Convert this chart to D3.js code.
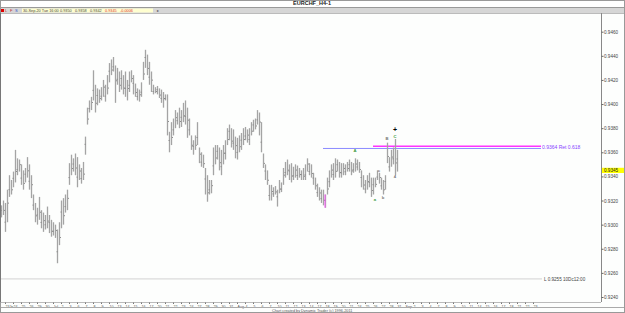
<!DOCTYPE html>
<html>
<head>
<meta charset="utf-8">
<script src="https://cdn.jsdelivr.net/npm/d3@7"></script>
<style>
  body { margin: 0; background: #fff; }
  svg { display: block; font-family: "Liberation Sans", Arial, sans-serif; }
</style>
</head>
<body>
<svg id="chart" width="625" height="313"></svg>
<script>
// EURCHF H4 bars (2 px per bar)
var highs = [
  0.9316,0.9320,0.9318,0.9329,0.9341,0.9337,0.9344,0.9362,0.9355,0.9354,
  0.9350,0.9345,0.9347,0.9356,0.9350,0.9341,0.9325,0.9318,0.9314,0.9323,
  0.9312,0.9310,0.9308,0.9315,0.9308,0.9304,0.9302,0.9300,0.9296,0.9302,
  0.9320,0.9322,0.9325,0.9329,0.9351,0.9358,0.9355,0.9359,0.9356,0.9350,
  0.9347,0.9352,0.9373,0.9397,0.9403,0.9406,0.9428,0.9416,0.9413,0.9412,
  0.9414,0.9420,0.9416,0.9424,0.9434,0.9437,0.9439,0.9432,0.9430,0.9427,
  0.9428,0.9424,0.9427,0.9420,0.9427,0.9428,0.9424,0.9417,0.9413,0.9412,
  0.9418,0.9435,0.9445,0.9441,0.9435,0.9427,0.9416,0.9414,0.9415,0.9413,
  0.9412,0.9410,0.9408,0.9408,0.9377,0.9385,0.9388,0.9395,0.9393,0.9397,
  0.9395,0.9401,0.9403,0.9397,0.9388,0.9374,0.9370,0.9374,0.9385,0.9364,
  0.9360,0.9358,0.9347,0.9341,0.9337,0.9337,0.9364,0.9366,0.9366,0.9364,
  0.9362,0.9366,0.9370,0.9380,0.9383,0.9380,0.9379,0.9373,0.9372,0.9374,
  0.9376,0.9380,0.9381,0.9379,0.9380,0.9385,0.9387,0.9388,0.9395,0.9393,
  0.9385,0.9359,0.9350,0.9345,0.9333,0.9333,0.9331,0.9332,0.9329,0.9337,
  0.9335,0.9347,0.9352,0.9354,0.9350,0.9351,0.9348,0.9350,0.9349,0.9347,
  0.9345,0.9347,0.9350,0.9355,0.9351,0.9350,0.9343,0.9339,0.9334,0.9331,
  0.9329,0.9329,0.9325,0.9339,0.9345,0.9350,0.9351,0.9355,0.9354,0.9352,
  0.9351,0.9351,0.9350,0.9352,0.9354,0.9352,0.9351,0.9355,0.9354,0.9352,
  0.9345,0.9341,0.9337,0.9341,0.9343,0.9339,0.9339,0.9339,0.9345,0.9343,
  0.9339,0.9337,0.9341,0.9368,0.9356,0.9362,0.9364,0.9371,0.9362
];
var lows = [
  0.9306,0.9308,0.9294,0.9302,0.9323,0.9325,0.9331,0.9335,0.9341,0.9344,
  0.9333,0.9329,0.9335,0.9339,0.9329,0.9322,0.9312,0.9302,0.9300,0.9304,
  0.9297,0.9294,0.9296,0.9297,0.9293,0.9290,0.9291,0.9289,0.9268,0.9283,
  0.9297,0.9300,0.9310,0.9312,0.9333,0.9341,0.9344,0.9341,0.9331,0.9337,
  0.9334,0.9337,0.9358,0.9383,0.9393,0.9395,0.9403,0.9393,0.9399,0.9401,
  0.9403,0.9406,0.9402,0.9408,0.9418,0.9424,0.9427,0.9401,0.9416,0.9410,
  0.9412,0.9408,0.9406,0.9403,0.9410,0.9418,0.9408,0.9406,0.9403,0.9402,
  0.9406,0.9420,0.9430,0.9424,0.9416,0.9410,0.9408,0.9409,0.9408,0.9405,
  0.9401,0.9397,0.9403,0.9374,0.9360,0.9366,0.9374,0.9380,0.9383,0.9380,
  0.9381,0.9385,0.9383,0.9372,0.9374,0.9362,0.9358,0.9362,0.9366,0.9351,
  0.9348,0.9347,0.9325,0.9319,0.9325,0.9326,0.9341,0.9350,0.9354,0.9345,
  0.9341,0.9350,0.9354,0.9366,0.9370,0.9364,0.9362,0.9355,0.9354,0.9360,
  0.9362,0.9366,0.9370,0.9368,0.9366,0.9374,0.9377,0.9379,0.9383,0.9374,
  0.9360,0.9347,0.9337,0.9333,0.9320,0.9320,0.9323,0.9325,0.9315,0.9326,
  0.9327,0.9333,0.9339,0.9341,0.9337,0.9335,0.9337,0.9339,0.9337,0.9339,
  0.9337,0.9337,0.9337,0.9344,0.9341,0.9339,0.9333,0.9329,0.9323,0.9320,
  0.9318,0.9316,0.9314,0.9325,0.9331,0.9339,0.9337,0.9339,0.9344,0.9339,
  0.9339,0.9341,0.9341,0.9344,0.9344,0.9341,0.9343,0.9344,0.9345,0.9343,
  0.9331,0.9329,0.9326,0.9329,0.9331,0.9323,0.9325,0.9331,0.9337,0.9334,
  0.9329,0.9325,0.9329,0.9351,0.9344,0.9348,0.9350,0.9341,0.9344
];

var priceTicks = [0.9460, 0.9440, 0.9420, 0.9400, 0.9380, 0.9360, 0.9340, 0.9320, 0.9300, 0.9280, 0.9260, 0.9240];
var lastPrice = 0.9345;

var dateLabels = ["23Jn","24","25","26","29","30","Jul","2","3","6","7","8","9","10","13","14","15","16","17","20",
  "21","22","23","24","27","28","29","30","31","Aug","4","5","6","7","10","11","12","13","14","17",
  "18","19","20","21","24","25","26","27","28","31","Sep","2","3","4","7","8","9","10","11","14",
  "15","16","17","18","21","22","23"];

// retracement lines and the old low
var retLevel = 0.9364, retLabel = "0.9364 Ret 0.618";
var blueStart = 161, magentaStart = 186;
var lowLevel = 0.9255, lowLabel = "L 0.9255 10Dc12:00";

// wave labels: [bar index, price, text, colour]
var waveLabels = [
  [177, 0.9360, "A", "#3a9a3a"],
  [187, 0.9320, "a", "#3a9a3a"],
  [189, 0.9344, "c", "#777"],
  [191, 0.9321, "b", "#777"],
  [193, 0.9370, "B", "#777"],
  [197, 0.9377, "+", "#000"],
  [197, 0.9372, "C", "#3a9a3a"],
  [197, 0.9339, "4", "#777"]
];

var info = ["30-Sep-20 Tue 16:00", "0.9350", "0.9358", "0.9342", "0.9345", "-0.0006"];

var svg = d3.select("#chart");

var x = d3.scaleLinear().domain([0, highs.length - 1]).range([1, 397]);
var y = d3.scaleLinear().domain([0.9240, 0.9460]).range([297, 31.7]);

// background + frame
svg.append("rect").attr("width", 625).attr("height", 313).attr("fill", "#fdfefd");
svg.append("rect").attr("x", 0).attr("y", 0).attr("width", 625).attr("height", 8).attr("fill", "#fff");
svg.append("line").attr("x1", 0).attr("x2", 625).attr("y1", 7.5).attr("y2", 7.5).attr("stroke", "#999");
svg.append("text").attr("x", 312).attr("y", 5).attr("text-anchor", "middle")
  .attr("font-size", 5.5).attr("font-weight", "bold").attr("fill", "#222").text("EURCHF_H4-1");
svg.append("rect").attr("x", 0).attr("y", 8).attr("width", 625).attr("height", 5).attr("fill", "#d6d6d6");
svg.append("line").attr("x1", 0).attr("x2", 625).attr("y1", 13.5).attr("y2", 13.5).attr("stroke", "#bbb");

// toolbar
svg.append("rect").attr("x", 1).attr("y", 9).attr("width", 3).attr("height", 3).attr("fill", "#e00000");
["L", "F", "S"].forEach(function(t, i) {
  svg.append("text").attr("x", 5 + i * 5).attr("y", 12).attr("font-size", 4)
    .attr("fill", i == 2 ? "#3355cc" : "#c03030").text(t);
});
svg.append("rect").attr("x", 22).attr("y", 8.5).attr("width", 131).attr("height", 4).attr("fill", "#ffffd0");
var infoX = [23, 60, 75, 90, 105, 120];
info.forEach(function(t, i) {
  svg.append("text").attr("x", infoX[i]).attr("y", 12).attr("font-size", 3.8)
    .attr("fill", i >= 4 ? "#e03030" : "#444").text(t);
});
svg.append("text").attr("x", 157).attr("y", 12).attr("font-size", 4).attr("fill", "#555").text("\u25b8");

// right price axis
svg.append("line").attr("x1", 601.5).attr("x2", 601.5).attr("y1", 13).attr("y2", 302).attr("stroke", "#888");
var axisR = svg.append("g").attr("transform", "translate(601.5,0)")
  .call(d3.axisRight(y).tickValues(priceTicks).tickSize(2).tickFormat(d3.format(".4f")));
axisR.select(".domain").remove();
axisR.selectAll("line").attr("stroke", "#666");
axisR.selectAll("text").attr("x", 2.5).attr("font-size", 4.6).attr("fill", "#444")
  .attr("font-family", "Liberation Sans, Arial, sans-serif");

// current price box
svg.append("rect").attr("x", 602).attr("y", y(lastPrice) - 2.6).attr("width", 22).attr("height", 5.2).attr("fill", "#ffff00");
svg.append("text").attr("x", 604).attr("y", y(lastPrice) + 1.7).attr("font-size", 4.6).attr("fill", "#222")
  .text(d3.format(".4f")(lastPrice));

// bottom date axis
svg.append("line").attr("x1", 0).attr("x2", 601).attr("y1", 302.5).attr("y2", 302.5).attr("stroke", "#bbb");
var tickIdx = dateLabels.map(function(d, i) { return 2 + 4 * i; });
var axisB = svg.append("g").attr("transform", "translate(0,302.5)")
  .call(d3.axisBottom(x).tickValues(tickIdx).tickSize(1.5)
    .tickFormat(function(d, i) { return dateLabels[i]; }));
axisB.select(".domain").remove();
axisB.selectAll("line").attr("stroke", "#777");
axisB.selectAll("text").attr("y", 2.5).attr("font-size", 3.6).attr("fill", "#555")
  .attr("text-anchor", "start").attr("font-family", "Liberation Sans, Arial, sans-serif");
svg.append("line").attr("x1", 0).attr("x2", 625).attr("y1", 307.5).attr("y2", 307.5).attr("stroke", "#aaa");
svg.append("text").attr("x", 272).attr("y", 311.5).attr("font-size", 3.8).attr("fill", "#555")
  .text("Chart created by Dynamic Trader  (c) 1996-2011");

// old low line
svg.append("line").attr("x1", 0).attr("x2", 542).attr("y1", y(lowLevel)).attr("y2", y(lowLevel))
  .attr("stroke", "#c8c8c8").attr("stroke-width", 0.8);
svg.append("text").attr("x", 544).attr("y", y(lowLevel) + 1.7).attr("font-size", 4.6).attr("fill", "#444").text(lowLabel);

// retracement lines
svg.append("line").attr("x1", x(blueStart)).attr("x2", 541).attr("y1", y(retLevel) + 1).attr("y2", y(retLevel) + 1)
  .attr("stroke", "#8a8aff").attr("stroke-width", 1);
svg.append("line").attr("x1", x(magentaStart)).attr("x2", 541).attr("y1", y(retLevel) - 1.2).attr("y2", y(retLevel) - 1.2)
  .attr("stroke", "#ff33ff").attr("stroke-width", 1.3);
svg.append("text").attr("x", 542).attr("y", y(retLevel) + 1.6).attr("font-size", 5).attr("fill", "#8844ff").text(retLabel);

// price bars
var bars = svg.append("g");
bars.selectAll("line").data(highs).join("line")
  .attr("x1", function(d, i) { return x(i) + 0.5; })
  .attr("x2", function(d, i) { return x(i) + 0.5; })
  .attr("y1", function(d) { return y(d); })
  .attr("y2", function(d, i) { return y(lows[i]); })
  .attr("stroke", "#a4a4a4").attr("stroke-width", 1.3);
bars.selectAll("rect").data(lows).join("rect")
  .attr("x", function(d, i) { return x(i) + (i % 2 ? 1 : -0.5); })
  .attr("y", function(d, i) { return y(d) + (y(highs[i]) - y(d)) * (i % 3 ? 0.35 : 0.6); })
  .attr("width", 1).attr("height", 0.8).attr("fill", "#777");

// pink marker at the low of the a-wave
svg.append("line").attr("x1", x(162)).attr("x2", x(162)).attr("y1", y(0.9325)).attr("y2", y(0.9314))
  .attr("stroke", "#ff55ff").attr("stroke-width", 1);

// wave labels
svg.selectAll(".wave").data(waveLabels).join("text").attr("class", "wave")
  .attr("x", function(d) { return x(d[0]); })
  .attr("y", function(d) { return y(d[1]); })
  .attr("text-anchor", "middle")
  .attr("font-size", function(d) { return d[2] == "+" ? 7 : 4.2; })
  .attr("font-weight", "bold")
  .attr("fill", function(d) { return d[3]; })
  .text(function(d) { return d[2]; });

// outer border
svg.append("rect").attr("x", 0.5).attr("y", 0.5).attr("width", 624).attr("height", 312)
  .attr("fill", "none").attr("stroke", "#999");
svg.append("line").attr("x1", 0.5).attr("x2", 0.5).attr("y1", 13).attr("y2", 302).attr("stroke", "#777");
</script>
</body>
</html>
